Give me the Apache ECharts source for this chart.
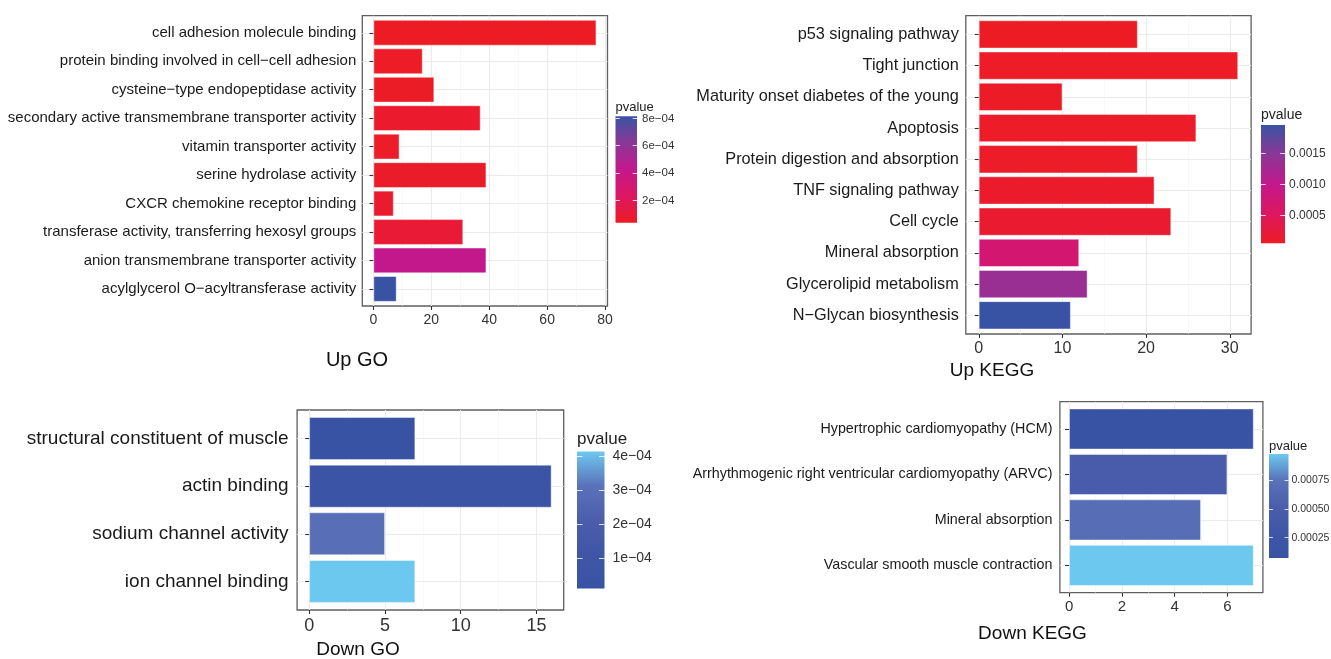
<!DOCTYPE html>
<html><head><meta charset="utf-8">
<script src="https://cdn.jsdelivr.net/npm/echarts@6/dist/echarts.min.js"></script>
<style>html,body{margin:0;padding:0;background:#fff}#c{width:1331px;height:659px}</style>
</head><body><div id="c"></div>
<script>
// ---------------- DATA ----------------
const upGoTerms = ['cell adhesion molecule binding', 'protein binding involved in cell\u2212cell adhesion', 'cysteine\u2212type endopeptidase activity', 'secondary active transmembrane transporter activity', 'vitamin transporter activity', 'serine hydrolase activity', 'CXCR chemokine receptor binding', 'transferase activity, transferring hexosyl groups', 'anion transmembrane transporter activity', 'acylglycerol O\u2212acyltransferase activity'];
const upGoCounts = [77, 17, 21, 37, 9, 39, 7, 31, 39, 8];
const upGoP = [3.65e-5, 4.2e-5, 4.5e-5, 6.5e-5, 5.0e-5, 5.5e-5, 7.0e-5, 9.5e-5, 4.26e-4, 8.15e-4];
const upGoXTicks = [0, 20, 40, 60, 80];
const upGoXMinor = [10, 30, 50, 70];
const upGoLegTicks = [2e-4, 4e-4, 6e-4, 8e-4];
const upGoLegLabels = ['2e\u221204', '4e\u221204', '6e\u221204', '8e\u221204'];

const upKeggTerms = ['p53 signaling pathway', 'Tight junction', 'Maturity onset diabetes of the young', 'Apoptosis', 'Protein digestion and absorption', 'TNF signaling pathway', 'Cell cycle', 'Mineral absorption', 'Glycerolipid metabolism', 'N\u2212Glycan biosynthesis'];
const upKeggCounts = [19, 31, 10, 26, 19, 21, 23, 12, 13, 11];
const upKeggP = [4.8e-5, 6.0e-5, 7.0e-5, 9.0e-5, 8.0e-5, 1.1e-4, 1.4e-4, 7.0e-4, 1.35e-3, 1.956e-3];
const upKeggXTicks = [0, 10, 20, 30];
const upKeggXMinor = [5, 15, 25];
const upKeggLegTicks = [5e-4, 1e-3, 1.5e-3];
const upKeggLegLabels = ['0.0005', '0.0010', '0.0015'];

const downGoTerms = ['structural constituent of muscle', 'actin binding', 'sodium channel activity', 'ion channel binding'];
const downGoCounts = [7, 16, 5, 7];
const downGoP = [1.0e-5, 5.5e-5, 3.0e-4, 4.14e-4];
const downGoXTicks = [0, 5, 10, 15];
const downGoXMinor = [2.5, 7.5, 12.5];
const downGoLegTicks = [1e-4, 2e-4, 3e-4, 4e-4];
const downGoLegLabels = ['1e\u221204', '2e\u221204', '3e\u221204', '4e\u221204'];

const downKeggTerms = ['Hypertrophic cardiomyopathy (HCM)', 'Arrhythmogenic right ventricular cardiomyopathy (ARVC)', 'Mineral absorption', 'Vascular smooth muscle contraction'];
const downKeggCounts = [7, 6, 5, 7];
const downKeggP = [7.3e-5, 4.8e-4, 7.0e-4, 9.77e-4];
const downKeggXTicks = [0, 2, 4, 6];
const downKeggXMinor = [1, 3, 5];
const downKeggLegTicks = [2.5e-4, 5e-4, 7.5e-4];
const downKeggLegLabels = ['0.00025', '0.00050', '0.00075'];

const panelTitles = ['Up GO', 'Up KEGG', 'Down GO', 'Down KEGG'];
const legendTitle = 'pvalue';

// ---------------- STYLE / LAYOUT ----------------
const FONT = "'Liberation Sans', Arial, Helvetica, sans-serif";
const upColors = ['#ED1C24', '#DD1760', '#C3188C', '#8B3796', '#3953A4'];
const downColors = ['#3953A4', '#3F56A6', '#4B5EAC', '#5A72B9', '#6DC8F0'];

const layouts = [
  {frame:{left:362.3, top:15.7, width:245.2, height:290.3}, yFont:15, yMargin:6, xFont:14, xMargin:7,
   title:{x:357, y:360, size:20}, bar:{left:615.5, top:116.3, width:21.5, height:106.5}, legTitle:{y:107, size:13}, legFont:11.5, legMargin:5},
  {frame:{left:965.8, top:15.7, width:285.3, height:318.3}, yFont:16.3, yMargin:7, xFont:16, xMargin:7,
   title:{x:992, y:371, size:19}, bar:{left:1261, top:125, width:24, height:118.3}, legTitle:{y:115, size:14}, legFont:12, legMargin:4},
  {frame:{left:297.1, top:410, width:266.6, height:200}, yFont:19, yMargin:8.5, xFont:18, xMargin:7.5,
   title:{x:358, y:650, size:19}, bar:{left:577, top:451.5, width:27.5, height:137}, legTitle:{y:439, size:17}, legFont:14, legMargin:8},
  {frame:{left:1059.9, top:401.7, width:203, height:191}, yFont:14.3, yMargin:7.5, xFont:15, xMargin:7,
   title:{x:1032.5, y:634, size:19}, bar:{left:1269, top:454, width:19.5, height:104}, legTitle:{y:446, size:13}, legFont:10.5, legMargin:3}
];

const panels = [
  {terms:upGoTerms, counts:upGoCounts, pvals:upGoP, xTicks:upGoXTicks, xMinor:upGoXMinor, legTicks:upGoLegTicks, legLabels:upGoLegLabels, colors:upColors, title:panelTitles[0]},
  {terms:upKeggTerms, counts:upKeggCounts, pvals:upKeggP, xTicks:upKeggXTicks, xMinor:upKeggXMinor, legTicks:upKeggLegTicks, legLabels:upKeggLegLabels, colors:upColors, title:panelTitles[1]},
  {terms:downGoTerms, counts:downGoCounts, pvals:downGoP, xTicks:downGoXTicks, xMinor:downGoXMinor, legTicks:downGoLegTicks, legLabels:downGoLegLabels, colors:downColors, title:panelTitles[2]},
  {terms:downKeggTerms, counts:downKeggCounts, pvals:downKeggP, xTicks:downKeggXTicks, xMinor:downKeggXMinor, legTicks:downKeggLegTicks, legLabels:downKeggLegLabels, colors:downColors, title:panelTitles[3]}
];

const grids = [], xAxes = [], yAxes = [], series = [], visualMaps = [], graphics = [];

function addPanel(d, L) {
  const n = d.terms.length;
  const maxC = Math.max(...d.counts);
  const xMin = -0.05 * maxC, xMax = 1.05 * maxC;
  const F = L.frame;
  // frame grid: border, gridlines, ticks, labels
  const gF = grids.length;
  grids.push({left:F.left, top:F.top, width:F.width, height:F.height, show:true, borderColor:'#5F5F5F', borderWidth:1.3, backgroundColor:'rgba(0,0,0,0)', outerBoundsMode:'none'});
  xAxes.push({gridIndex:gF, type:'value', min:xMin, max:xMax, position:'bottom', axisLine:{show:false},
    axisTick:{show:true, customValues:d.xTicks, length:4, lineStyle:{color:'#333', width:1.1}},
    axisLabel:{customValues:d.xTicks, margin:L.xMargin, fontSize:L.xFont, color:'#333333', fontFamily:FONT},
    splitLine:{show:true, lineStyle:{color:'#EBEBEB', width:1.1}}});
  xAxes.push({gridIndex:gF, type:'value', min:xMin, max:xMax, position:'top', axisLine:{show:false},
    axisTick:{show:false, customValues:d.xMinor}, axisLabel:{show:false},
    splitLine:{show:true, lineStyle:{color:'#F3F3F3', width:0.6}}});
  const pos = d.terms.map((t, i) => i + 1);
  yAxes.push({gridIndex:gF, type:'value', min:0.4, max:n + 0.6, inverse:true, axisLine:{show:false},
    axisTick:{show:true, customValues:pos, length:4, lineStyle:{color:'#333', width:1.1}},
    axisLabel:{customValues:pos, formatter:v => d.terms[Math.round(v) - 1], margin:L.yMargin, fontSize:L.yFont, color:'#1A1A1A', fontFamily:FONT},
    splitLine:{show:true, lineStyle:{color:'#EBEBEB', width:1.1}}});
  // inner grid for the bars (ggplot discrete expansion of 0.6 units)
  const pitch = F.height / (n + 0.2);
  const gI = grids.length;
  grids.push({left:F.left, top:F.top + 0.1 * pitch, width:F.width, height:n * pitch, outerBoundsMode:'none'});
  const xI = xAxes.length;
  xAxes.push({gridIndex:gI, type:'value', min:xMin, max:xMax, show:false});
  const yI = yAxes.length;
  yAxes.push({gridIndex:gI, type:'category', data:d.terms, inverse:true, show:false});
  const sI = series.length;
  series.push({type:'bar', xAxisIndex:xI, yAxisIndex:yI, silent:true,
    data:d.counts.map((c, i) => [c, d.terms[i], d.pvals[i]]), encode:{x:0, y:1},
    barWidth:'90%', itemStyle:{borderColor:'rgba(255,255,255,0.55)', borderWidth:0.8}});
  const pMin = Math.min(...d.pvals), pMax = Math.max(...d.pvals);
  visualMaps.push({type:'continuous', show:false, seriesIndex:sI, dimension:2, min:pMin, max:pMax, inRange:{color:d.colors}});
  // colour bar
  const B = L.bar;
  const gB = grids.length;
  grids.push({left:B.left, top:B.top, width:B.width, height:B.height, outerBoundsMode:'none'});
  const xB = xAxes.length;
  xAxes.push({gridIndex:gB, type:'category', data:[legendTitle], show:false});
  const fmt = v => {
    const k = d.legTicks.findIndex(t => Math.abs(t - v) < (pMax - pMin) * 1e-6);
    return k >= 0 ? d.legLabels[k] : '';
  };
  const tickStyle = {show:true, inside:true, customValues:d.legTicks, length:B.width / 5, lineStyle:{color:'rgba(255,255,255,0.8)', width:1}};
  const yR = yAxes.length;
  yAxes.push({gridIndex:gB, type:'value', min:pMin, max:pMax, position:'right', z:10, axisLine:{show:false},
    axisTick:tickStyle, axisLabel:{customValues:d.legTicks, formatter:fmt, margin:L.legMargin, fontSize:L.legFont, color:'#333', fontFamily:FONT},
    splitLine:{show:false}});
  yAxes.push({gridIndex:gB, type:'value', min:pMin, max:pMax, position:'left', z:10, axisLine:{show:false},
    axisTick:tickStyle, axisLabel:{show:false}, splitLine:{show:false}});
  const m = d.colors.length;
  const stops = d.colors.map((c, k) => ({offset:1 - k / (m - 1), color:c})).sort((a, b) => a.offset - b.offset);
  series.push({type:'bar', xAxisIndex:xB, yAxisIndex:yR, stack:'cb' + gB, silent:true, barWidth:'100%',
    data:[pMin], itemStyle:{color:'rgba(0,0,0,0)'}});
  series.push({type:'bar', xAxisIndex:xB, yAxisIndex:yR, stack:'cb' + gB, silent:true, barWidth:'100%',
    data:[pMax - pMin], itemStyle:{color:new echarts.graphic.LinearGradient(0, 0, 0, 1, stops)}});
  // titles
  graphics.push({type:'text', x:L.title.x, y:L.title.y, silent:true,
    style:{text:d.title, font:L.title.size + 'px ' + FONT, fill:'#111', align:'center', verticalAlign:'middle'}});
  graphics.push({type:'text', x:B.left, y:L.legTitle.y, silent:true,
    style:{text:legendTitle, font:L.legTitle.size + 'px ' + FONT, fill:'#222', align:'left', verticalAlign:'middle'}});
}

panels.forEach((p, i) => addPanel(p, layouts[i]));

const chart = echarts.init(document.getElementById('c'), null, {renderer:'canvas'});
chart.setOption({
  animation:false,
  backgroundColor:'#ffffff',
  grid:grids, xAxis:xAxes, yAxis:yAxes, series:series, visualMap:visualMaps, graphic:graphics
});
</script></body></html>
